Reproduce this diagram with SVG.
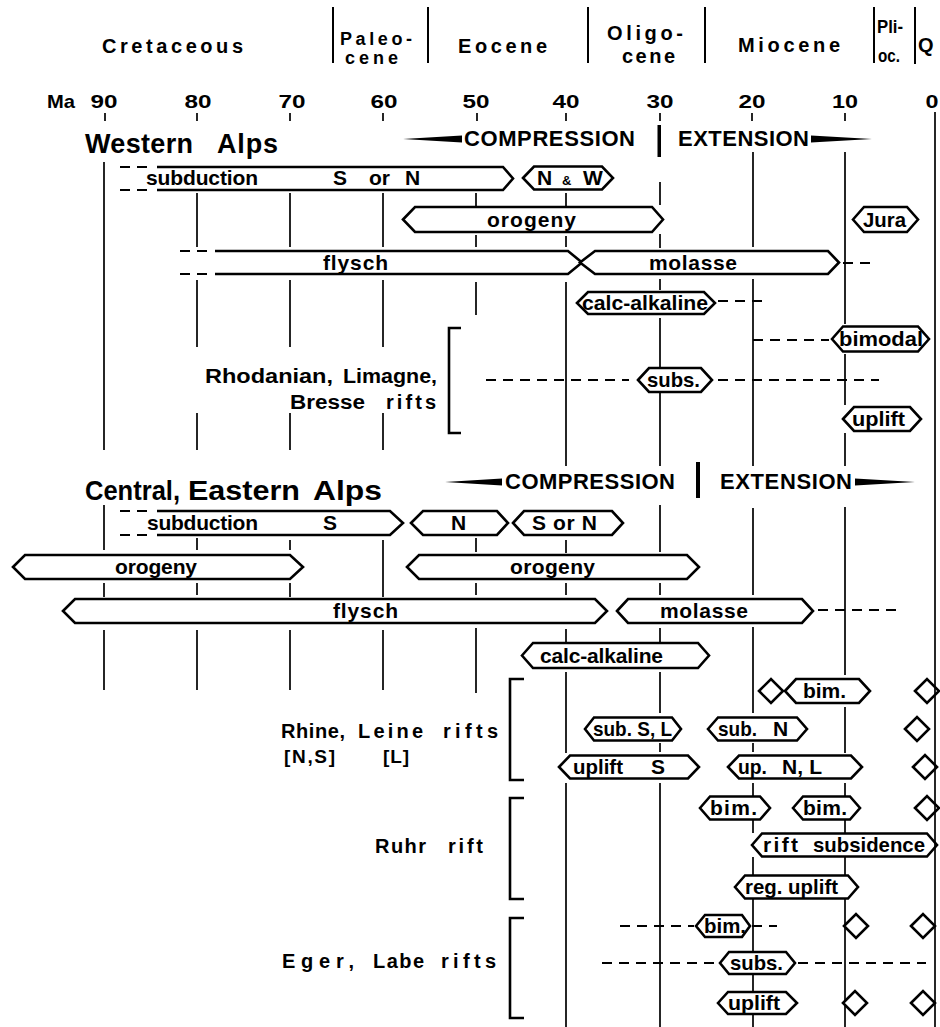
<svg xmlns="http://www.w3.org/2000/svg" width="940" height="1027" viewBox="0 0 940 1027">
<style>
.t{font-family:"Liberation Sans",Arial,sans-serif;font-weight:bold;fill:#000}
.hd{font-size:20px}
.ma{font-size:19px}
.ti{font-size:27px}
.ce{font-size:22px}
.bt{font-size:21px}
.rl{font-size:20px}
.ln{stroke:#000;stroke-width:1.7;fill:none}
.ep{stroke:#000;stroke-width:2;fill:none}
.bx{stroke:#000;stroke-width:2.6;fill:#fff;stroke-linejoin:miter}
.op{stroke:#000;stroke-width:2.6;fill:#fff;stroke-linejoin:miter}
.br{stroke:#000;stroke-width:2.6;fill:none}
.ds{stroke:#000;stroke-width:2.2;stroke-dasharray:10 7;fill:none}
</style>
<rect width="940" height="1027" fill="#fff"/>

<g id="header">
<path class="ep" d="M333,7V63 M428,7V63 M588,7V63 M705,7V63 M874,7V63 M915,7V64"/>
<text class="t hd" x="102" y="53" textLength="141" lengthAdjust="spacing">Cretaceous</text>
<text class="t" style="font-size:18px" x="340" y="45" textLength="72" lengthAdjust="spacing">Paleo-</text>
<text class="t" style="font-size:18px" x="345" y="64" textLength="53" lengthAdjust="spacing">cene</text>
<text class="t hd" x="458" y="53" textLength="89" lengthAdjust="spacing">Eocene</text>
<text class="t hd" x="607" y="40" textLength="76" lengthAdjust="spacing">Oligo-</text>
<text class="t hd" x="622" y="63" textLength="53" lengthAdjust="spacing">cene</text>
<text class="t hd" x="738" y="52" textLength="102" lengthAdjust="spacing">Miocene</text>
<text class="t" style="font-size:18px" x="877" y="33" textLength="26" lengthAdjust="spacingAndGlyphs">Pli-</text>
<text class="t" style="font-size:18px" x="878" y="62" textLength="22" lengthAdjust="spacingAndGlyphs">oc.</text>
<text class="t hd" x="918" y="52">Q</text>
<text class="t ma" x="47" y="108" textLength="28" lengthAdjust="spacingAndGlyphs">Ma</text>
<g text-anchor="middle">
<text class="t ma" x="104" y="108" textLength="27" lengthAdjust="spacingAndGlyphs">90</text>
<text class="t ma" x="198" y="108" textLength="27" lengthAdjust="spacingAndGlyphs">80</text>
<text class="t ma" x="292" y="108" textLength="27" lengthAdjust="spacingAndGlyphs">70</text>
<text class="t ma" x="384" y="108" textLength="27" lengthAdjust="spacingAndGlyphs">60</text>
<text class="t ma" x="476" y="108" textLength="27" lengthAdjust="spacingAndGlyphs">50</text>
<text class="t ma" x="566" y="108" textLength="27" lengthAdjust="spacingAndGlyphs">40</text>
<text class="t ma" x="660" y="108" textLength="27" lengthAdjust="spacingAndGlyphs">30</text>
<text class="t ma" x="752" y="108" textLength="27" lengthAdjust="spacingAndGlyphs">20</text>
<text class="t ma" x="845" y="108" textLength="26" lengthAdjust="spacingAndGlyphs">10</text>
<text class="t ma" x="932" y="108" textLength="13" lengthAdjust="spacingAndGlyphs">0</text>
</g>
</g>

<g id="grid">
<path class="ln" d="M105,113V121 M197,113V121 M290,113V121 M383,113V121 M477,113V121 M566,113V121 M660,113V121 M752,113V121 M845,113V121
M104,162V450
M197,193V247 M197,280V347 M197,413V450
M290,193V247 M290,280V347 M290,413V450
M383,193V247 M383,280V347 M383,413V450
M476,193V207 M476,235V247 M476,282V315
M566,193V207 M566,236V247 M566,282V466
M660,182V205 M660,234V248 M660,279V290 M660,318V368 M660,393V466
M753,152V247 M753,279V466
M845,152V324 M845,354V405 M845,433V466
M104,505V550 M104,583V597 M104,630V690
M197,538V550 M197,583V595 M197,630V690
M290,540V550 M290,583V597 M290,630V690
M383,540V597 M383,630V690
M476,538V552 M476,583V595 M476,628V693
M566,540V553 M566,583V595 M566,629V642 M566,672V753 M566,783V1027
M660,505V552 M660,583V595 M660,628V642 M660,672V713 M660,743V752 M660,783V1027
M753,508V595 M753,627V713 M753,743V752 M753,783V797 M753,820V833 M753,857V875 M753,898V1027
M845,507V675 M845,707V753 M845,783V797 M845,820V833 M845,857V875 M845,898V1027"/>
</g>

<g id="titles">
<text class="t ti" x="85" y="153" textLength="108" lengthAdjust="spacing">Western</text>
<text class="t ti" x="217" y="153" textLength="61" lengthAdjust="spacing">Alps</text>
<text class="t ti" x="85" y="500" textLength="95" lengthAdjust="spacingAndGlyphs">Central,</text>
<text class="t ti" x="188" y="500" textLength="112" lengthAdjust="spacingAndGlyphs">Eastern</text>
<text class="t ti" x="313" y="500" textLength="69" lengthAdjust="spacingAndGlyphs">Alps</text>
</g>

<g id="stress-west">
<polygon points="403,139 462,135.5 462,142.5"/>
<text class="t ce" x="464" y="146" textLength="171" lengthAdjust="spacing">COMPRESSION</text>
<rect x="657.5" y="125" width="3.5" height="32"/>
<text class="t ce" x="678" y="146" textLength="131" lengthAdjust="spacing">EXTENSION</text>
<polygon points="811,135.5 811,142.5 872,139"/>
</g>
<g id="stress-central">
<polygon points="445,482 502,478.5 502,485.5"/>
<text class="t ce" x="505" y="489" textLength="170" lengthAdjust="spacing">COMPRESSION</text>
<rect x="696" y="462" width="4" height="36"/>
<text class="t ce" x="720" y="489" textLength="132" lengthAdjust="spacing">EXTENSION</text>
<polygon points="855,478.5 855,485.5 915,482"/>
</g>

<g id="connectors">
<path class="ds" d="M120,167H148 M120,190H148 M180,251H208 M180,274H208 M843,263H873 M718,301H763 M753,340H829 M486,380H629 M718,380H879 M120,511H147 M120,535H147 M818,610H899 M620,926H694 M752,926H777 M602,963H717 M798,963H926"/>
</g>

<g id="brackets">
<path class="br" d="M461,328H449V433H461 M524,679H510V780H524 M524,798H510V899H524 M524,918H510V1018H524"/>
</g>

<g id="rift-labels">
<text class="t rl" x="205" y="383" textLength="128" lengthAdjust="spacingAndGlyphs">Rhodanian,</text>
<text class="t rl" x="343" y="383" textLength="94" lengthAdjust="spacingAndGlyphs">Limagne,</text>
<text class="t rl" x="290" y="409" textLength="75" lengthAdjust="spacingAndGlyphs">Bresse</text>
<text class="t rl" x="386" y="409" textLength="50" lengthAdjust="spacing">rifts</text>
<text class="t rl" x="281" y="738" textLength="64" lengthAdjust="spacing">Rhine,</text>
<text class="t rl" x="358" y="738" textLength="65" lengthAdjust="spacing">Leine</text>
<text class="t rl" x="443" y="738" textLength="55" lengthAdjust="spacing">rifts</text>
<text class="t" style="font-size:19px" x="284" y="763" textLength="51" lengthAdjust="spacing">[N,S]</text>
<text class="t" style="font-size:19px" x="383" y="763" textLength="26" lengthAdjust="spacing">[L]</text>
<text class="t rl" x="375" y="853" textLength="51" lengthAdjust="spacing">Ruhr</text>
<text class="t rl" x="448" y="853" textLength="35" lengthAdjust="spacing">rift</text>
<text class="t rl" x="282" y="968" textLength="72" lengthAdjust="spacing">Eger,</text>
<text class="t rl" x="373" y="968" textLength="51" lengthAdjust="spacing">Labe</text>
<text class="t rl" x="441" y="968" textLength="55" lengthAdjust="spacing">rifts</text>
</g>

<!-- Western Alps nodes -->
<g id="w-subduction">
<path class="op" d="M157,167H503L513,178.5L503,190H157"/>
<text class="t bt" x="146" y="185" textLength="112" lengthAdjust="spacing">subduction</text>
<text class="t bt" x="333" y="185">S</text>
<text class="t bt" x="369" y="185">or</text>
<text class="t bt" x="405" y="185">N</text>
</g>
<g id="w-nw">
<polygon class="bx" points="523,178 534,166.5 602,166.5 613,178 602,189.5 534,189.5"/>
<text class="t bt" x="537" y="185">N</text>
<text class="t" style="font-size:13px" x="562" y="185">&amp;</text>
<text class="t bt" x="583" y="185">W</text>
</g>
<g id="w-orogeny">
<polygon class="bx" points="403,219.5 415,207 652,207 663,219.5 652,232 415,232"/>
<text class="t bt" x="487" y="226.5" textLength="89" lengthAdjust="spacing">orogeny</text>
</g>
<g id="w-jura">
<polygon class="bx" points="853,219.5 864,207 907,207 918,219.5 907,232 864,232"/>
<text class="t bt" x="863" y="226.5" textLength="43" lengthAdjust="spacingAndGlyphs">Jura</text>
</g>
<g id="w-flysch">
<path class="op" d="M215,251H568L582,262.5L568,274H215"/>
<text class="t bt" x="323" y="269.5" textLength="65" lengthAdjust="spacing">flysch</text>
</g>
<g id="w-molasse">
<path class="bx" d="M580,262.5L595,251H828L839,262.5L828,274H595Z"/>
<text class="t bt" x="649" y="269.5" textLength="88" lengthAdjust="spacing">molasse</text>
</g>
<g id="w-calc-alkaline">
<polygon class="bx" points="577,303 588,292 704,292 715,303 704,314 588,314"/>
<text class="t bt" x="582" y="310" textLength="126" lengthAdjust="spacingAndGlyphs">calc-alkaline</text>
</g>
<g id="w-bimodal">
<polygon class="bx" points="832,339 843,326.5 918,326.5 929,339 918,351.5 843,351.5"/>
<text class="t bt" x="839" y="346" textLength="84" lengthAdjust="spacingAndGlyphs">bimodal</text>
</g>
<g id="w-subs">
<polygon class="bx" points="638,380 649,368 701,368 712,380 701,392 649,392"/>
<text class="t bt" x="647" y="387" textLength="53" lengthAdjust="spacingAndGlyphs">subs.</text>
</g>
<g id="w-uplift">
<polygon class="bx" points="843,419 854,407 910,407 921,419 910,431 854,431"/>
<text class="t bt" x="852" y="426" textLength="53" lengthAdjust="spacingAndGlyphs">uplift</text>
</g>

<!-- Central, Eastern Alps nodes -->
<g id="c-subduction">
<path class="op" d="M157,511H390L403,523L390,535H157"/>
<text class="t bt" x="147" y="530" textLength="111" lengthAdjust="spacing">subduction</text>
<text class="t bt" x="323" y="530">S</text>
</g>
<g id="c-n">
<polygon class="bx" points="411,523 423,511 497,511 508,523 497,535 423,535"/>
<text class="t bt" x="451" y="530">N</text>
</g>
<g id="c-sorn">
<polygon class="bx" points="513,523 524,511 612,511 623,523 612,535 524,535"/>
<text class="t bt" x="532" y="530" textLength="65" lengthAdjust="spacing">S or N</text>
</g>
<g id="c-orogeny-1">
<polygon class="bx" points="13,567 25,555 290,555 303,567 290,579 25,579"/>
<text class="t bt" x="115" y="574" textLength="82" lengthAdjust="spacing">orogeny</text>
</g>
<g id="c-orogeny-2">
<polygon class="bx" points="407,567 419,555 687,555 699,567 687,579 419,579"/>
<text class="t bt" x="510" y="574" textLength="85" lengthAdjust="spacing">orogeny</text>
</g>
<g id="c-flysch">
<polygon class="bx" points="63,611 75,599 595,599 607,611 595,623 75,623"/>
<text class="t bt" x="333" y="618" textLength="65" lengthAdjust="spacing">flysch</text>
</g>
<g id="c-molasse">
<polygon class="bx" points="617,611 628,599 802,599 813,611 802,623 628,623"/>
<text class="t bt" x="660" y="618" textLength="88" lengthAdjust="spacing">molasse</text>
</g>
<g id="c-calc-alkaline">
<polygon class="bx" points="522,655.5 533,643 698,643 709,655.5 698,668 533,668"/>
<text class="t bt" x="540" y="662.5" textLength="123" lengthAdjust="spacing">calc-alkaline</text>
</g>

<!-- Rhine, Leine rifts -->
<g id="rh-diamond-1"><polygon class="bx" points="759,691 771,679 783,691 771,703"/></g>
<g id="rh-bim">
<polygon class="bx" points="785,691 796,679 859,679 870,691 859,703 796,703"/>
<text class="t bt" x="803" y="698" textLength="43" lengthAdjust="spacing">bim.</text>
</g>
<g id="rh-diamond-2"><polygon class="bx" points="915,691 927,679 939,691 927,703"/></g>
<g id="rh-sub-sl">
<polygon class="bx" points="585,729 594,717.5 672,717.5 681,729 672,740.5 594,740.5"/>
<text class="t bt" x="593" y="736" textLength="79" lengthAdjust="spacingAndGlyphs">sub. S, L</text>
</g>
<g id="rh-sub-n">
<polygon class="bx" points="708,729 718,717.5 797,717.5 807,729 797,740.5 718,740.5"/>
<text class="t bt" x="718" y="736" textLength="39" lengthAdjust="spacingAndGlyphs">sub.</text>
<text class="t bt" x="773" y="736">N</text>
</g>
<g id="rh-diamond-3"><polygon class="bx" points="905,729 917,717 929,729 917,741"/></g>
<g id="rh-uplift-s">
<polygon class="bx" points="559,767 570,755.5 688,755.5 699,767 688,778.5 570,778.5"/>
<text class="t bt" x="573" y="774" textLength="50" lengthAdjust="spacingAndGlyphs">uplift</text>
<text class="t bt" x="651" y="774">S</text>
</g>
<g id="rh-up-nl">
<polygon class="bx" points="728,767 739,755.5 851,755.5 862,767 851,778.5 739,778.5"/>
<text class="t bt" x="738" y="774" textLength="29" lengthAdjust="spacingAndGlyphs">up.</text>
<text class="t bt" x="782" y="774" textLength="40" lengthAdjust="spacing">N, L</text>
</g>
<g id="rh-diamond-4"><polygon class="bx" points="913,767 925,755 937,767 925,779"/></g>

<!-- Ruhr rift -->
<g id="ru-bim-1">
<polygon class="bx" points="700,808 710,796.5 760,796.5 770,808 760,819.5 710,819.5"/>
<text class="t bt" x="710" y="815" textLength="47" lengthAdjust="spacing">bim.</text>
</g>
<g id="ru-bim-2">
<polygon class="bx" points="793,808 803,796.5 850,796.5 860,808 850,819.5 803,819.5"/>
<text class="t bt" x="803" y="815" textLength="44" lengthAdjust="spacing">bim.</text>
</g>
<g id="ru-diamond"><polygon class="bx" points="915,808 927,796 939,808 927,820"/></g>
<g id="ru-rift-subsidence">
<polygon class="bx" points="752,845 762,833.5 927,833.5 937,845 927,856.5 762,856.5"/>
<text class="t bt" x="763" y="852" textLength="35" lengthAdjust="spacing">rift</text>
<text class="t bt" x="813" y="852" textLength="112" lengthAdjust="spacingAndGlyphs">subsidence</text>
</g>
<g id="ru-reg-uplift">
<polygon class="bx" points="735,887 745,875.5 848,875.5 858,887 848,898.5 745,898.5"/>
<text class="t bt" x="745" y="894" textLength="93" lengthAdjust="spacingAndGlyphs">reg. uplift</text>
</g>

<!-- Eger, Labe rifts -->
<g id="eg-bim">
<polygon class="bx" points="696,926 705,915 742,915 750,926 742,937 705,937"/>
<text class="t bt" x="704" y="933" textLength="42" lengthAdjust="spacingAndGlyphs">bim.</text>
</g>
<g id="eg-diamond-1"><polygon class="bx" points="844,926 856,914 868,926 856,938"/></g>
<g id="eg-diamond-2"><polygon class="bx" points="911,926 923,914 935,926 923,938"/></g>
<g id="eg-subs">
<polygon class="bx" points="720,963 729,952 786,952 795,963 786,974 729,974"/>
<text class="t bt" x="730" y="970" textLength="53" lengthAdjust="spacingAndGlyphs">subs.</text>
</g>
<g id="eg-uplift">
<polygon class="bx" points="718,1003 728,992 786,992 797,1003 786,1014 728,1014"/>
<text class="t bt" x="728" y="1010" textLength="52" lengthAdjust="spacingAndGlyphs">uplift</text>
</g>
<g id="eg-diamond-3"><polygon class="bx" points="843,1003 855,991 867,1003 855,1015"/></g>
<g id="eg-diamond-4"><polygon class="bx" points="911,1003 923,991 935,1003 923,1015"/></g>

<g id="axis-zero">
<path class="ln" d="M935,112V1027"/>
</g>
</svg>
